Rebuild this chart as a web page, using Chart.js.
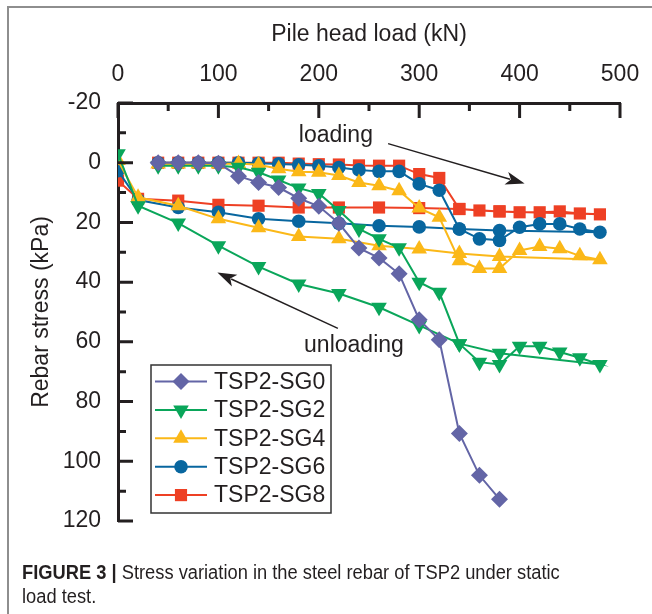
<!DOCTYPE html>
<html>
<head>
<meta charset="utf-8">
<script src="https://cdn.jsdelivr.net/npm/chart.js@4.4.0/dist/chart.umd.min.js"></script>
<style>
html,body{margin:0;padding:0;background:#fff;}
#wrap{position:relative;width:652px;height:614px;overflow:hidden;background:#fff;}
#frameTop{position:absolute;left:8px;top:6px;width:644px;height:0;border-top:2px solid #8e8e8e;}
#frameLeft{position:absolute;left:7px;top:6px;width:0;height:608px;border-left:2px solid #8e8e8e;}
canvas{position:absolute;left:0;top:0;}
#caption{position:absolute;left:22px;top:560px;font-family:"Liberation Sans",Arial,sans-serif;font-size:20px;line-height:24px;color:#231f20;white-space:nowrap;transform:scaleX(0.915);transform-origin:0 0;}
</style>
</head>
<body>
<div id="wrap">
<div id="frameTop"></div><div id="frameLeft"></div>
<canvas id="c" width="652" height="614" style="width:652px;height:614px"></canvas>
<div id="caption"><b>FIGURE 3 |</b> Stress variation in the steel rebar of TSP2 under static<br>load test.</div>
</div>
<script>
// ---- data (kN, kPa) ----
const loadingLoad = [40,60,80,100,120,140,160,180,200,220,240,260,280,300,320,340,360,380,400,420,440,460,480];
const unloadingLoad = [380,340,300,260,220,180,140,100,60,20,0];
const sg0Load = [40,60,80,100,120,140,160,180,200,220,240,260,280,300,320,340,360,380];

const sg0Loading = [0,0,0,0.2,4.5,6.6,8.3,11.9,14.6,20.3,28.6,31.9,37.2,52.6,59.3,90.7,104.7,112.7];

const sg2Loading = [1,1,1,1,1.5,3.2,5.8,8.5,10.3,16,22.2,25.5,28.5,40,43.4,60.6,66.8,67.6,61.5,61.5,63.4,65.3,67.6];
const sg2Unloading = [63.8,60.6,54.5,48.4,43.8,40.6,34.8,27.8,20.2,14.4,-3];

const sg4Loading = [0.4,0.4,0.4,0.4,0.3,0.7,2,3,3.2,4.3,6.6,7.7,9.4,15.2,18.3,32.8,35.4,35.4,29.4,28.1,28.8,31.2,32.5];
const sg4Unloading = [31.4,30.4,28.9,27.8,25.5,24.7,21.8,18.8,14.4,11.6,-0.7];

const sg6Loading = [0,0,0,0,0,0.2,0.4,0.7,1,1.6,2.4,2.9,2.9,7.1,9.2,22.2,25.5,26,21.6,20.5,20.5,22.2,23.3];
const sg6Unloading = [22.7,22.2,21.5,21.1,20.3,19.6,18.8,16.6,15,12.5,2.7];

const sg8Loading = [0,0,0,0,0,0,0,0.3,0.5,0.6,0.9,1,1,3.8,5.1,15.5,16,16.3,16.6,16.6,16.3,17,17.3];
const sg8Unloading = [16.3,15.5,15.2,15,15,15,14.4,14.1,12.7,12.1,6];

const seriesNames = ['TSP2-SG0','TSP2-SG2','TSP2-SG4','TSP2-SG6','TSP2-SG8'];
const xTickValues = [0,100,200,300,400,500];
const yTickValues = [-20,0,20,40,60,80,100,120];
const xMinorValues = [50,150,250,350,450];
const yMinorValues = [-10,10,30,50,70,90,110];

// annotations in data units
const loadingArrow = {from:[269,-6.4], to:[405,7.0], label:'loading', labelAt:[217,-9]};
const unloadingArrow = {from:[219,55.5], to:[99,36.8], label:'unloading', labelAt:[235,61.2]};

// ---- build ----
function pts(xs, ys){ return xs.map((x,i)=>({x:x, y:ys[i]})); }
const TXT = '#231f20';
const FONT = '"Liberation Sans", Arial, sans-serif';
const colors = ['#6365a6','#0aa65a','#fbb818','#08669f','#ee4024'];
const styles = [
  {pointStyle:'rectRot', radius:8.5, rotation:0},
  {pointStyle:'triangle', radius:9, rotation:180},
  {pointStyle:'triangle', radius:9, rotation:0},
  {pointStyle:'circle', radius:6.8, rotation:0},
  {pointStyle:'rect', radius:8.6, rotation:0}
];
const seriesData = [
  pts(sg0Load, sg0Loading),
  pts(loadingLoad, sg2Loading).concat(pts(unloadingLoad, sg2Unloading)),
  pts(loadingLoad, sg4Loading).concat(pts(unloadingLoad, sg4Unloading)),
  pts(loadingLoad, sg6Loading).concat(pts(unloadingLoad, sg6Unloading)),
  pts(loadingLoad, sg8Loading).concat(pts(unloadingLoad, sg8Unloading))
];
const datasets = seriesNames.map((name,i)=>({
  label: name,
  data: seriesData[i],
  showLine: true,
  borderColor: colors[i],
  backgroundColor: colors[i],
  borderWidth: 2,
  pointStyle: styles[i].pointStyle,
  pointRadius: styles[i].radius,
  pointRotation: styles[i].rotation,
  pointBorderWidth: 0,
  pointBackgroundColor: colors[i],
  pointBorderColor: colors[i],
  pointHoverRadius: styles[i].radius,
  tension: 0
}));

function drawMarker(ctx, st, color, x, y){
  ctx.save();
  ctx.fillStyle = color;
  ctx.beginPath();
  const r = st.radius;
  if (st.pointStyle === 'circle') {
    ctx.arc(x, y, r, 0, Math.PI*2);
  } else if (st.pointStyle === 'rect') {
    const s = Math.SQRT1_2 * r;
    ctx.rect(x-s, y-s, 2*s, 2*s);
  } else if (st.pointStyle === 'rectRot') {
    ctx.moveTo(x, y-r); ctx.lineTo(x+r, y); ctx.lineTo(x, y+r); ctx.lineTo(x-r, y);
  } else {
    let rad = st.rotation * Math.PI/180;
    ctx.moveTo(x + Math.sin(rad)*r, y - Math.cos(rad)*r);
    rad += 2*Math.PI/3;
    ctx.lineTo(x + Math.sin(rad)*r, y - Math.cos(rad)*r);
    rad += 2*Math.PI/3;
    ctx.lineTo(x + Math.sin(rad)*r, y - Math.cos(rad)*r);
  }
  ctx.closePath();
  ctx.fill();
  ctx.restore();
}

function arrow(ctx, xs, ys, a){
  const x1 = xs.getPixelForValue(a.from[0]), y1 = ys.getPixelForValue(a.from[1]);
  const x2 = xs.getPixelForValue(a.to[0]), y2 = ys.getPixelForValue(a.to[1]);
  const ang = Math.atan2(y2-y1, x2-x1);
  const L = 19, W = 6.5;
  ctx.save();
  ctx.strokeStyle = TXT; ctx.fillStyle = TXT; ctx.lineWidth = 1.5;
  ctx.beginPath();
  ctx.moveTo(x1, y1);
  ctx.lineTo(x2 - Math.cos(ang)*L*0.8, y2 - Math.sin(ang)*L*0.8);
  ctx.stroke();
  ctx.beginPath();
  ctx.moveTo(x2, y2);
  ctx.lineTo(x2 - Math.cos(ang)*L - Math.sin(ang)*W, y2 - Math.sin(ang)*L + Math.cos(ang)*W);
  ctx.lineTo(x2 - Math.cos(ang)*L*0.75, y2 - Math.sin(ang)*L*0.75);
  ctx.lineTo(x2 - Math.cos(ang)*L + Math.sin(ang)*W, y2 - Math.sin(ang)*L - Math.cos(ang)*W);
  ctx.closePath();
  ctx.fill();
  ctx.font = '23px ' + FONT;
  ctx.textAlign = 'center'; ctx.textBaseline = 'middle';
  ctx.fillText(a.label, xs.getPixelForValue(a.labelAt[0]), ys.getPixelForValue(a.labelAt[1]));
  ctx.restore();
}

const overlay = {
  id: 'overlay',
  afterDraw(chart){
    const ctx = chart.ctx;
    const xs = chart.scales.x, ys = chart.scales.y;
    const top = chart.chartArea.top, left = chart.chartArea.left;
    ctx.save();
    ctx.strokeStyle = TXT; ctx.lineWidth = 3; ctx.lineCap = 'butt';
    ctx.beginPath();
    xTickValues.forEach(v=>{ const x = xs.getPixelForValue(v); ctx.moveTo(x, top); ctx.lineTo(x, top+15); });
    xMinorValues.forEach(v=>{ const x = xs.getPixelForValue(v); ctx.moveTo(x, top); ctx.lineTo(x, top+8); });
    yTickValues.forEach(v=>{ const y = ys.getPixelForValue(v); ctx.moveTo(left, y); ctx.lineTo(left+15, y); });
    yMinorValues.forEach(v=>{ const y = ys.getPixelForValue(v); ctx.moveTo(left, y); ctx.lineTo(left+8, y); });
    ctx.stroke();
    ctx.restore();

    arrow(ctx, xs, ys, loadingArrow);
    arrow(ctx, xs, ys, unloadingArrow);

    // legend box
    const bx = 151, by = 365, bw = 180, bh = 148, rowH = 28.4, firstRow = 381.5;
    ctx.save();
    ctx.fillStyle = '#fff';
    ctx.fillRect(bx, by, bw, bh);
    ctx.strokeStyle = '#333'; ctx.lineWidth = 1.5;
    ctx.strokeRect(bx, by, bw, bh);
    ctx.font = '23px ' + FONT;
    ctx.textAlign = 'left'; ctx.textBaseline = 'middle';
    seriesNames.forEach((name,i)=>{
      const y = firstRow + i*rowH;
      ctx.strokeStyle = colors[i]; ctx.lineWidth = 2;
      ctx.beginPath(); ctx.moveTo(155, y); ctx.lineTo(207, y); ctx.stroke();
      drawMarker(ctx, styles[i], colors[i], 181, y);
      ctx.fillStyle = TXT;
      ctx.fillText(name, 214, y + 1);
    });
    ctx.restore();
  }
};

new Chart(document.getElementById('c'), {
  type: 'scatter',
  data: { datasets: datasets },
  options: {
    responsive: false,
    animation: false,
    events: [],
    layout: { padding: { left: 0, right: 32, top: 0, bottom: 93 } },
    plugins: { legend: { display: false }, tooltip: { enabled: false } },
    scales: {
      x: {
        type: 'linear', position: 'top', min: 0, max: 500,
        afterBuildTicks: s => { s.ticks = xTickValues.map(v=>({value:v})); },
        afterFit: s => { s.height = 103; },
        grid: { display: false },
        border: { display: true, color: TXT, width: 3 },
        ticks: { color: TXT, font: { family: FONT, size: 23 }, padding: 7, maxRotation: 0 },
        title: { display: true, text: 'Pile head load (kN)', color: TXT, font: { family: FONT, size: 23 }, padding: { top: 21, bottom: 0 } }
      },
      y: {
        type: 'linear', position: 'left', min: -20, max: 120, reverse: true,
        afterBuildTicks: s => { s.ticks = yTickValues.map(v=>({value:v})); },
        afterFit: s => { s.width = 118; },
        grid: { display: false },
        border: { display: true, color: TXT, width: 3 },
        ticks: { color: TXT, font: { family: FONT, size: 23 }, padding: 9 },
        title: { display: true, text: 'Rebar stress (kPa)', color: TXT, font: { family: FONT, size: 23 }, padding: { top: 28, bottom: 0 } }
      }
    }
  },
  plugins: [overlay]
});
</script>
</body>
</html>
